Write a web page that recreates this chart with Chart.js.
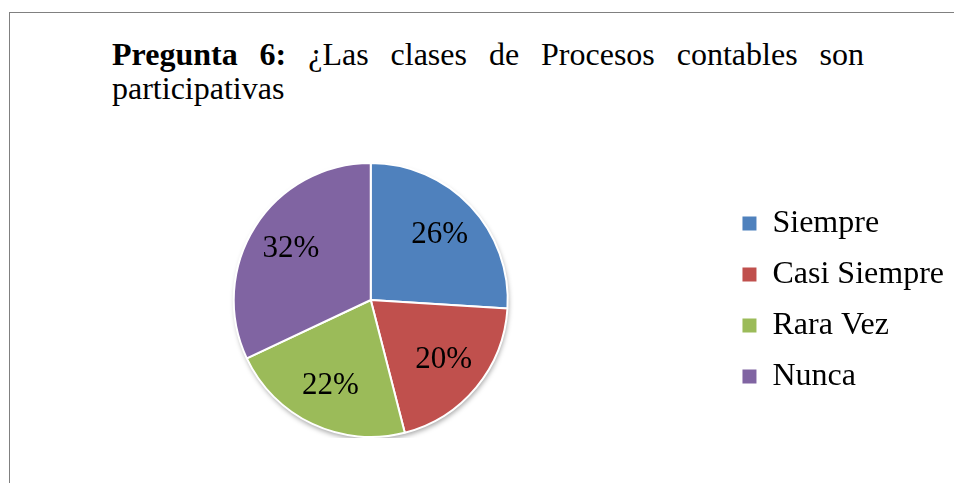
<!DOCTYPE html>
<html>
<head>
<meta charset="utf-8">
<script src="https://cdn.jsdelivr.net/npm/chart.js@4"></script>
<style>
	body {
		margin: 0;
		background: #fff;
		width: 954px;
		height: 483px;
		overflow: hidden;
		position: relative;
		font-family: 'Liberation Serif', 'Times New Roman', serif;
	}
	.frame {
		position: absolute;
		left: 9px;
		top: 12px;
		width: 1000px;
		height: 600px;
		border-left: 1px solid #808080;
		border-top: 1px solid #808080;
	}
	.title {
		position: absolute;
		left: 112px;
		top: 37px;
		width: 752px;
		font-size: 32px;
		line-height: 34px;
		text-align: justify;
		color: #000;
	}
	.chart-box {
		position: absolute;
		left: 18px;
		top: 162px;
		width: 936px;
		height: 276px;
	}
</style>
</head>
<body>
<div class="frame"></div>
<div class="title"><b>Pregunta 6:</b> ¿Las clases de Procesos contables son participativas</div>
<div class="chart-box"><canvas id="pie-chart"></canvas></div>
<script>
	const categories = ['Siempre', 'Casi Siempre', 'Rara Vez', 'Nunca']
	const percentages = [26, 20, 22, 32]
	const sliceColors = ['#4F81BD', '#C0504D', '#9BBB59', '#8064A2']

	Chart.defaults.font.family = "'Liberation Serif', 'Times New Roman', serif"
	Chart.defaults.color = '#000'

	// тень под кругом
	const pieShadow = {
		id: 'pieShadow',
		beforeDatasetsDraw(chart) {
			const arc = chart.getDatasetMeta(0).data[0]
			if (!arc) return
			const ctx = chart.ctx
			ctx.save()
			ctx.shadowColor = 'rgba(0, 0, 0, 0.35)'
			ctx.shadowBlur = 5
			ctx.shadowOffsetX = 1
			ctx.shadowOffsetY = 3
			ctx.fillStyle = '#fff'
			ctx.beginPath()
			ctx.arc(arc.x, arc.y, arc.outerRadius, 0, Math.PI * 2)
			ctx.fill()
			ctx.restore()
		},
	}

	// подписи процентов внутри секторов
	const sliceLabels = {
		id: 'sliceLabels',
		afterDatasetsDraw(chart) {
			const ctx = chart.ctx
			const values = chart.data.datasets[0].data
			ctx.save()
			ctx.font = "31px 'Liberation Serif', 'Times New Roman', serif"
			ctx.fillStyle = '#000'
			ctx.textAlign = 'center'
			ctx.textBaseline = 'middle'
			chart.getDatasetMeta(0).data.forEach((arc, i) => {
				const mid = (arc.startAngle + arc.endAngle) / 2
				const r = arc.outerRadius * 0.69
				ctx.fillText(values[i] + '%', arc.x + Math.cos(mid) * r, arc.y + Math.sin(mid) * r)
			})
			ctx.restore()
		},
	}

	new Chart(document.getElementById('pie-chart').getContext('2d'), {
		type: 'pie',
		data: {
			labels: categories,
			datasets: [
				{
					data: percentages,
					backgroundColor: sliceColors,
					borderColor: '#fff',
					borderWidth: 2,
				},
			],
		},
		options: {
			responsive: true,
			maintainAspectRatio: false,
			animation: false,
			events: [],
			plugins: {
				legend: {
					display: true,
					position: 'right',
					labels: {
						boxWidth: 14,
						boxHeight: 14,
						padding: 19,
						color: '#000',
						font: { size: 32 },
						generateLabels: chart =>
							Chart.overrides.pie.plugins.legend.labels
								.generateLabels(chart)
								.map(item => ({ ...item, lineWidth: 0 })),
					},
				},
				tooltip: { enabled: false },
			},
		},
		plugins: [pieShadow, sliceLabels],
	})
</script>
</body>
</html>
